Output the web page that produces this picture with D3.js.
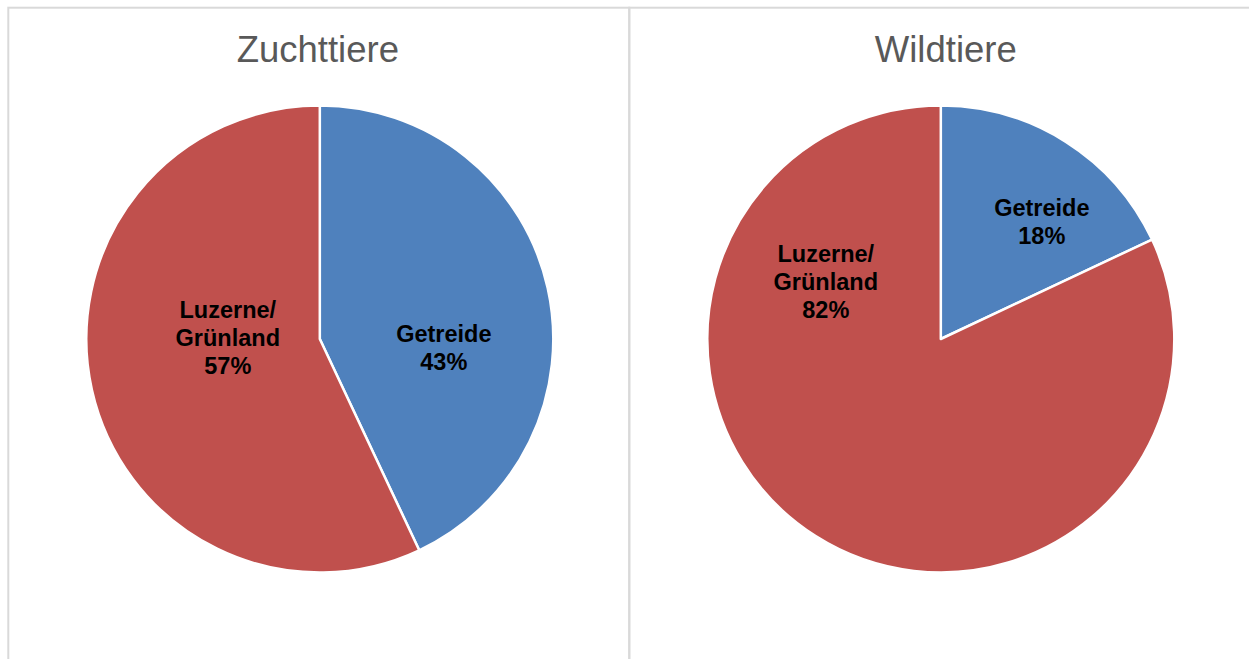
<!DOCTYPE html>
<html><head><meta charset="utf-8">
<script src="https://cdn.jsdelivr.net/npm/d3@7"></script>
<style>body{margin:0;background:#fff;}svg{display:block;font-family:"Liberation Sans",Arial,sans-serif;}</style>
</head><body>
<svg id="c" width="1249" height="659"></svg>
<script>
// data
const titles = ["Zuchttiere", "Wildtiere"];
const categories = ["Getreide", "Luzerne/Grünland"];
const labelLines = [["Getreide"], ["Luzerne/", "Grünland"]];
const zuchtValues = [43, 57];
const wildValues = [18, 82];
const colors = ["#4f81bd", "#c0504d"];

// layout (not data)
const W = 1249, H = 659;
const panelW = 621, panelTop = 7.7, panelLeft = 8.3;
const cy = 339, R = 233.5;
const titleBase = 62, titleShift = [0, 7];
// label offsets relative to pie center (per panel, per slice): [dx, dy of first baseline]
const labelPos = [
  [[124, 3], [-92, -21]],
  [[101, -123], [-115, -77]]
];
const lineH = 28;

const svg = d3.select("#c");
const series = [zuchtValues, wildValues];

const pie = d3.pie().sort(null).value(d => d)
  .startAngle(0).endAngle(2 * Math.PI);
const arc = d3.arc().innerRadius(0).outerRadius(R);

series.forEach((vals, p) => {
  const x0 = panelLeft + p * panelW;
  svg.append("rect").attr("x", x0).attr("y", panelTop)
    .attr("width", panelW).attr("height", H + 20)
    .attr("fill", "none").attr("stroke", "#d9d9d9").attr("stroke-width", 2);

  const cx = x0 + panelW / 2 + 1;
  const g = svg.append("g").attr("transform", `translate(${cx},${cy})`);
  const arcs = pie(vals);
  g.selectAll("path").data(arcs).join("path")
    .attr("d", arc)
    .attr("fill", (d, i) => colors[i])
    .attr("stroke", "#fff").attr("stroke-width", 2.5).attr("stroke-linejoin", "round");

  arcs.forEach((d, i) => {
    const [dx, dy] = labelPos[p][i];
    const lines = labelLines[i].concat([d3.format("d")(d.data) + "%"]);
    const t = g.append("text")
      .attr("text-anchor", "middle")
      .attr("font-weight", "bold").attr("font-size", 23.5).attr("fill", "#000");
    lines.forEach((ln, k) => {
      t.append("tspan").attr("x", dx).attr("y", dy + k * lineH).text(ln);
    });
  });

  svg.append("text")
    .attr("x", cx - 2 + titleShift[p]).attr("y", titleBase)
    .attr("text-anchor", "middle")
    .attr("font-size", 36.5).attr("fill", "#595959")
    .text(titles[p]);
});
</script>
</body></html>
